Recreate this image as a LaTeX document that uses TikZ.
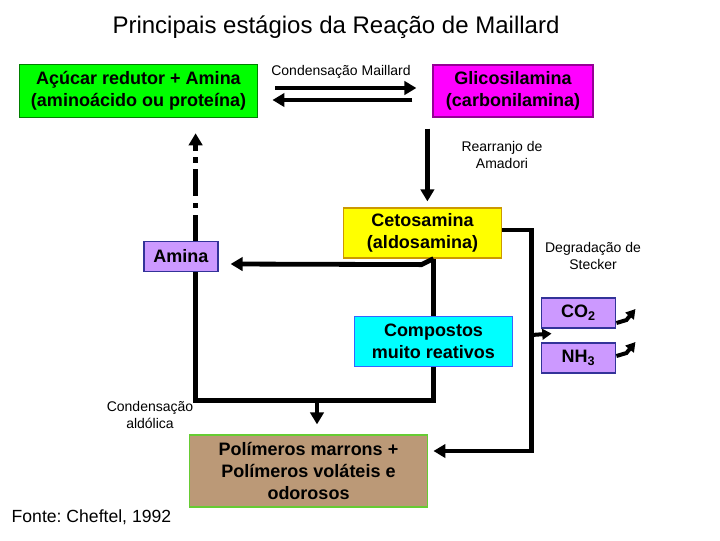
\documentclass[tikz,border=0pt]{standalone}
\usepackage{fontspec}
\setmainfont{Liberation Sans}
\frenchspacing
\usetikzlibrary{arrows.meta,calc}

\definecolor{sugarfill}{RGB}{0,255,0}
\definecolor{sugardraw}{RGB}{0,128,0}
\definecolor{glicfill}{RGB}{255,0,255}
\definecolor{glicdraw}{RGB}{150,0,150}
\definecolor{cetofill}{RGB}{255,255,0}
\definecolor{cetodraw}{RGB}{204,153,0}
\definecolor{lilacfill}{RGB}{204,153,255}
\definecolor{lilacdraw}{RGB}{51,51,153}
\definecolor{compfill}{RGB}{0,255,255}
\definecolor{compdraw}{RGB}{51,102,255}
\definecolor{polimfill}{RGB}{187,153,119}
\definecolor{polimdraw}{RGB}{102,204,51}

\begin{document}
\begin{tikzpicture}[x=0.75pt,y=-0.75pt,
    box/.style={draw,line width=0.9pt,align=center,inner sep=0pt,font=\fontsize{13.5}{16.2}\selectfont\bfseries},
    lbl/.style={align=center,font=\fontsize{10.5}{12.2}\selectfont},
    flow/.style={line width=3.6pt},
    arr/.style={flow,-{Triangle[length=9pt,width=10pt]}},
    small arr/.style={line width=3pt,-{Triangle[length=7pt,width=8pt]}}]
    \useasboundingbox (0,0) rectangle (720,540);

    % Title and source.
    \node[font=\fontsize{18}{21}\selectfont] (title) at (336,27) {Principais estágios da Reação de Maillard};
    \node[anchor=west,font=\fontsize{13.2}{15}\selectfont] (fonte) at (7,517) {Fonte: Cheftel, 1992};

    % Stage boxes.
    \node[box,fill=sugarfill,draw=sugardraw,minimum width=179pt,minimum height=40pt] (acucar) at (138.5,91) {Açúcar redutor + Amina\\(aminoácido ou proteína)};
    \node[box,fill=glicfill,draw=glicdraw,minimum width=120pt,minimum height=39pt] (glic) at (513,91) {Glicosilamina\\(carbonilamina)};
    \node[box,fill=cetofill,draw=cetodraw,minimum width=119pt,minimum height=37.5pt] (ceto) at (422.5,233) {Cetosamina\\(aldosamina)};
    \node[box,fill=lilacfill,draw=lilacdraw,minimum width=55.5pt,minimum height=22pt] (amina) at (181,256.5) {Amina};
    \node[box,fill=compfill,draw=compdraw,minimum width=119pt,minimum height=38pt] (comp) at (433.5,341.5) {Compostos\\muito reativos};
    \node[box,fill=lilacfill,draw=lilacdraw,minimum width=56pt,minimum height=22.5pt] (co2) at (578.5,313) {CO\textsubscript{2}};
    \node[box,fill=lilacfill,draw=lilacdraw,minimum width=56pt,minimum height=22.5pt] (nh3) at (578.5,358) {NH\textsubscript{3}};
    \node[box,fill=polimfill,draw=polimdraw,minimum width=179pt,minimum height=54pt,font=\fontsize{13.5}{16.5}\selectfont\bfseries] (polim) at (308.5,471) {Polímeros marrons +\\Polímeros voláteis e\\odorosos};

    % Step labels.
    \node[lbl] (lcond) at (341,72) {Condensação Maillard};
    \node[lbl] (lrear) at (502,155) {Rearranjo de\\Amadori};
    \node[lbl] (ldeg) at (593,256) {Degradação de\\Stecker};
    \node[lbl] (lald) at (150,415) {Condensação\\aldólica};

    % Reversible condensation.
    \draw[arr,shorten <=12.75pt,shorten >=12pt] ([yshift=2.25pt]acucar.east) -- ([yshift=2.25pt]glic.west);
    \draw[arr,shorten <=15pt,shorten >=10.5pt] ([yshift=-6.75pt]glic.west) -- ([yshift=-6.75pt]acucar.east);
    \draw[arr] ($(glic.south west)+(-5,11)$) -- ($(glic.south west |- ceto.north)+(-5,-6)$);

    % Amine released back to the start.
    \coordinate (aport) at ($(amina.north east)+(-23,0)$);
    \draw[arr,dash pattern=on 20pt off 5pt on 4pt off 5pt,shorten >=11.25pt] (aport) -- (aport |- acucar.south);
    \draw[flow] (comp.north) -- (comp.north |- ceto.south);
    \draw[arr] (comp.north |- ceto.south) -- ++(-12,6) -- ($(amina.east)+(12,7.5)$);
    \draw[flow] (comp.south) -- ++(0,33) -| ($(amina.south east)+(-23,0)$);
    \draw[arr] ($(polim.north)+(8.5,-31)$) -- ($(polim.north)+(8.5,-10)$);

    % Strecker branch.
    \draw[arr] ([yshift=2.25pt]ceto.east) -- ++(29,0) coordinate (rc) |- ($(polim.east)+(5,-20)$);
    \draw[small arr] ($(rc)+(0,105)$) -- ($(co2.south west)+(11,5)$);
    \draw[small arr] ($(co2.east)+(0,10)$) -- ++(10,-3) -- ++(9,-11);
    \draw[small arr] ($(nh3.east)+(0,-2)$) -- ++(10,-3) -- ++(9,-11);
\end{tikzpicture}
\end{document}
